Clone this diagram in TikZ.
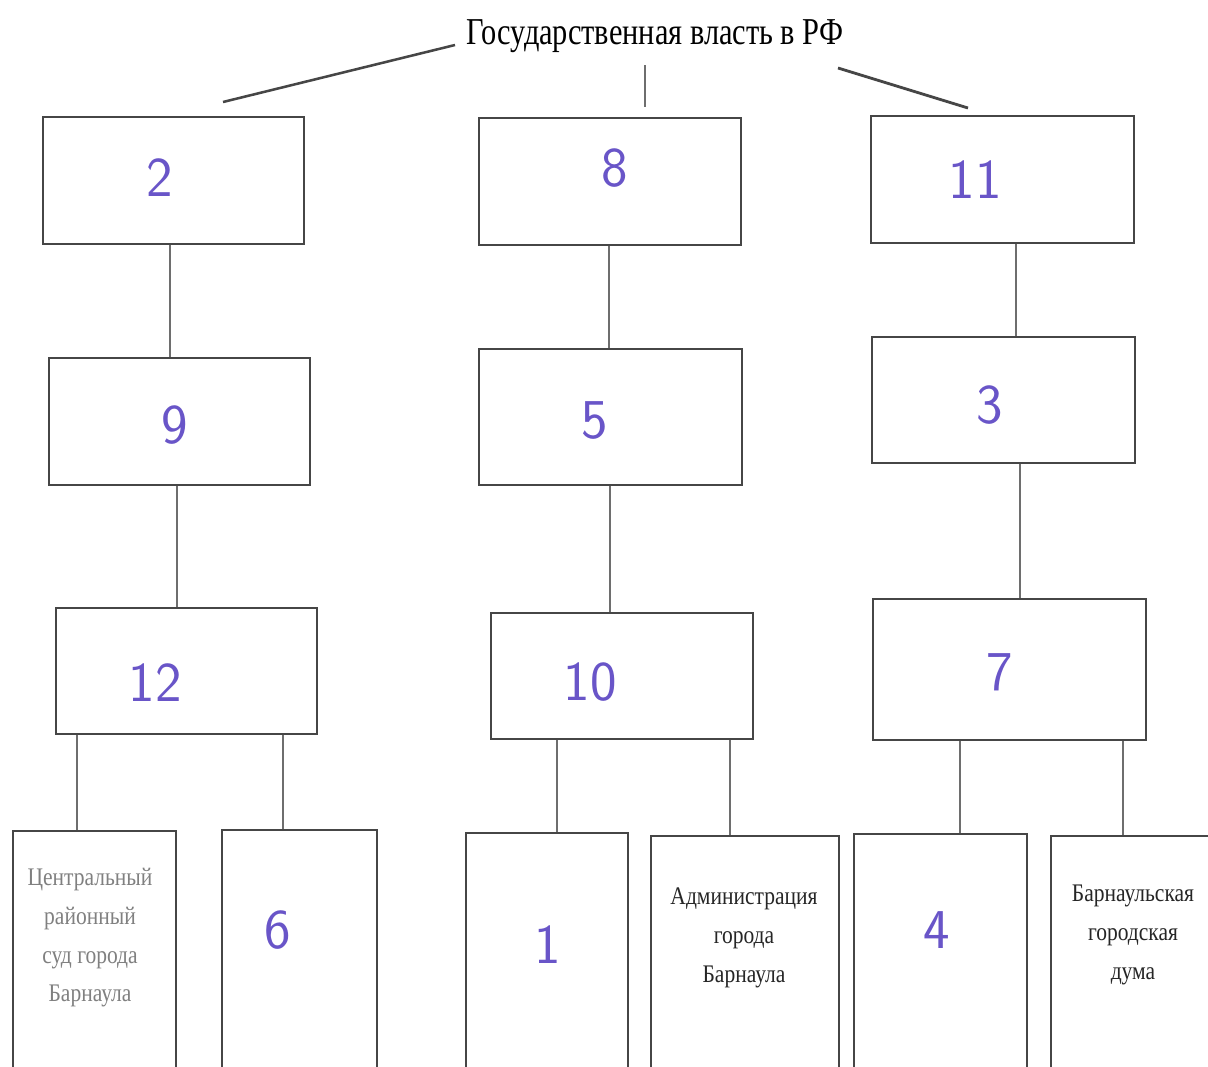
\documentclass[tikz,border=0pt]{standalone}
\usepackage{fontspec}
\setmainfont{Liberation Serif}
\definecolor{ink}{RGB}{105,85,200}
\definecolor{boxline}{RGB}{70,70,70}
\definecolor{conn}{RGB}{110,110,110}
\begin{document}
\begin{tikzpicture}[x=0.025cm,y=-0.025cm,
  box/.style={draw=boxline,line width=1.1pt,anchor=north west,inner sep=0pt},
  conline/.style={draw=conn,line width=0.8pt},
  num/.style={text=ink,font=\sffamily\fontsize{40}{40}\selectfont},
  lbl/.style={align=center,font=\fontsize{18}{27.5}\selectfont},
]
\useasboundingbox (0,0) rectangle (1208,1066);
\clip (0,0) rectangle (1208,1066);
\fill[white] (0,0) rectangle (1208,1066);
% title
\node (title) at (655,36) {\fontsize{27}{27}\selectfont\scalebox{0.8}[1]{Государственная власть в РФ}};
\coordinate (tl1) at (455,45);
\coordinate (tl2) at (223,102);
\coordinate (tm1) at (645,65);
\coordinate (tm2) at (645,107);
\coordinate (tr1) at (838,68);
\coordinate (tr2) at (968,108);
\draw[draw=boxline,line width=1.8pt] (tl1) -- (tl2);
\draw[conline] (tm1) -- (tm2);
\draw[draw=boxline,line width=2pt] (tr1) -- (tr2);
% row 1
\node[box,minimum width=261*0.025cm,minimum height=127*0.025cm] (b2) at (42,116) {};
\node[box,minimum width=262*0.025cm,minimum height=127*0.025cm] (b8) at (478,117) {};
\node[box,minimum width=263*0.025cm,minimum height=127*0.025cm] (b11) at (870,115) {};
% row 2
\node[box,minimum width=261*0.025cm,minimum height=127*0.025cm] (b9) at (48,357) {};
\node[box,minimum width=263*0.025cm,minimum height=136*0.025cm] (b5) at (478,348) {};
\node[box,minimum width=263*0.025cm,minimum height=126*0.025cm] (b3) at (871,336) {};
% row 3
\node[box,minimum width=261*0.025cm,minimum height=126*0.025cm] (b12) at (55,607) {};
\node[box,minimum width=262*0.025cm,minimum height=126*0.025cm] (b10) at (490,612) {};
\node[box,minimum width=273*0.025cm,minimum height=141*0.025cm] (b7) at (872,598) {};
% row 4
\node[box,minimum width=163*0.025cm,minimum height=250*0.025cm] (c1) at (12,830) {};
\node[box,minimum width=155*0.025cm,minimum height=250*0.025cm] (c2) at (221,829) {};
\node[box,minimum width=162*0.025cm,minimum height=250*0.025cm] (c3) at (465,832) {};
\node[box,minimum width=188*0.025cm,minimum height=250*0.025cm] (c4) at (650,835) {};
\node[box,minimum width=173*0.025cm,minimum height=250*0.025cm] (c5) at (853,833) {};
\node[box,minimum width=180*0.025cm,minimum height=250*0.025cm] (c6) at (1050,835) {};
% numbers
\node[num] (n2) at (160,178) {2};
\node[num] (n8) at (615,168) {8};
\node[num] (n11) at (975,180) {11};
\node[num] (n9) at (175,425) {9};
\node[num] (n5) at (595,420) {5};
\node[num] (n3) at (990,405) {3};
\node[num] (n12) at (155,683) {12};
\node[num] (n10) at (590,682) {10};
\node[num] (n7) at (1000,672) {7};
\node[num] (n6) at (278,930) {6};
\node[num] (n1) at (548,945) {1};
\node[num] (n4) at (937,930) {4};
% labels
\node[lbl,text=gray] (t1) at (90,938) {\scalebox{0.85}[1]{Центральный}\\\scalebox{0.85}[1]{районный}\\\scalebox{0.85}[1]{суд города}\\\scalebox{0.85}[1]{Барнаула}};
\node[lbl,text=black!85] (t2) at (744,938) {\scalebox{0.85}[1]{Администрация}\\\scalebox{0.85}[1]{города}\\\scalebox{0.85}[1]{Барнаула}};
\node[lbl,text=black!85] (t3) at (1133,935) {\scalebox{0.85}[1]{Барнаульская}\\\scalebox{0.85}[1]{городская}\\\scalebox{0.85}[1]{дума}};
% connectors
\draw[conline] (b2.south -| 170,0) -- (b9.north -| 170,0);
\draw[conline] (b9.south -| 177,0) -- (b12.north -| 177,0);
\draw[conline] (b8.south -| 609,0) -- (b5.north -| 609,0);
\draw[conline] (b5.south -| 610,0) -- (b10.north -| 610,0);
\draw[conline] (b11.south -| 1016,0) -- (b3.north -| 1016,0);
\draw[conline] (b3.south -| 1020,0) -- (b7.north -| 1020,0);
\draw[conline] (b12.south -| 77,0) -- (c1.north -| 77,0);
\draw[conline] (b12.south -| 283,0) -- (c2.north -| 283,0);
\draw[conline] (b10.south -| 557,0) -- (c3.north -| 557,0);
\draw[conline] (b10.south -| 730,0) -- (c4.north -| 730,0);
\draw[conline] (b7.south -| 960,0) -- (c5.north -| 960,0);
\draw[conline] (b7.south -| 1123,0) -- (c6.north -| 1123,0);
\end{tikzpicture}
\end{document}
